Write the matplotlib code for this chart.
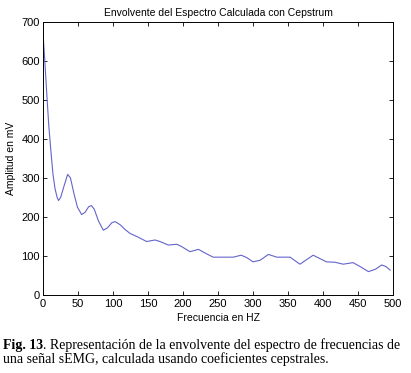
import matplotlib
matplotlib.use('Agg')
import matplotlib.pyplot as plt
import numpy as np

# envelope values
freq = [0, 2, 5, 8, 11, 14, 17, 20, 22, 25, 30, 35, 39, 44, 49, 55, 60, 65, 69, 73,
        79, 86, 92, 98, 103, 110, 117, 124, 136, 148, 160, 167, 179, 191, 198, 210,
        222, 231, 243, 257, 272, 283, 291, 300, 310, 322, 334, 353, 367, 386, 405,
        417, 429, 443, 454, 465, 475, 484, 490, 496]
amp = [665, 610, 520, 435, 370, 310, 272, 250, 242, 250, 280, 309, 300, 260, 225,
       206, 212, 226, 229, 220, 190, 166, 172, 185, 188, 180, 168, 158, 148, 137, 141,
       137, 128, 130, 124, 111, 117, 108, 97, 97, 97, 102, 96, 85, 89, 104, 97, 97,
       79, 102, 85, 84, 79, 83, 72, 60, 66, 77, 73, 64]

xticks = np.arange(0, 501, 50)
yticks = np.arange(0, 701, 100)

plt.rcParams['font.family'] = ['Liberation Sans', 'DejaVu Sans']

fig = plt.figure(figsize=(4.11, 3.73), dpi=100)
ax = fig.add_axes([0.105, 0.209, 0.851, 0.733])
ax.plot(freq, amp, color='#6464cc', linewidth=0.8)

ax.set_xlim(0, 500)
ax.set_ylim(0, 700)
ax.set_xticks(xticks)
ax.set_yticks(yticks)
ax.tick_params(direction='in', top=True, right=True, labelsize=8, length=3, width=0.6, pad=2.5)
for s in ax.spines.values():
    s.set_linewidth(0.7)

ax.set_title('Envolvente del Espectro Calculada con Cepstrum', fontsize=7.5, pad=4)
ax.set_xlabel('Frecuencia en HZ', fontsize=7.5, labelpad=3)
ax.set_ylabel('Amplitud en mV', fontsize=7.5, labelpad=4)

# caption below the plot, serif like the paper
fig.canvas.draw()
r = fig.canvas.get_renderer()
y1 = 1 - 345 / 373
y2 = 1 - 359 / 373
t1 = fig.text(0.008, y1, 'Fig. 13', fontsize=10, fontweight='bold',
              family='Liberation Serif', va='center')
bb = t1.get_window_extent(renderer=r)
fig.text(bb.x1 / fig.bbox.width, y1,
         '. Representación de la envolvente del espectro de frecuencias de',
         fontsize=10, family='Liberation Serif', va='center')
fig.text(0.008, y2,
         'una señal sEMG, calculada usando coeficientes cepstrales.',
         fontsize=10, family='Liberation Serif', va='center')

fig.savefig('out.png', dpi=100)
